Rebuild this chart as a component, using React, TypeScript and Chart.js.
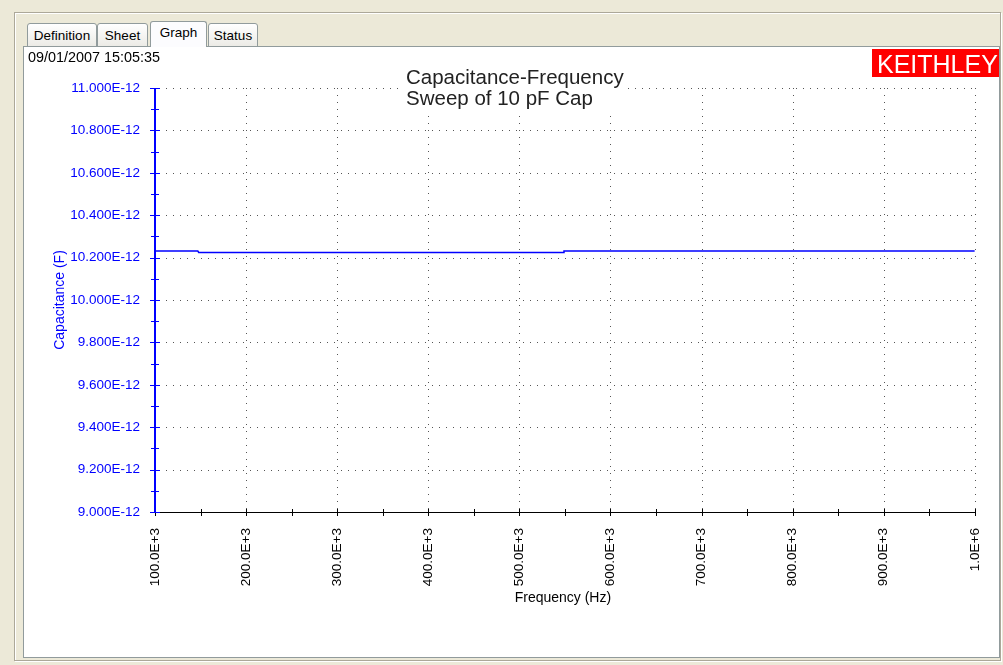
import React, { useEffect, useRef } from 'react';
import { Chart, registerables } from 'chart.js';

Chart.register(...registerables);

// ---- data ----
const frequencyHz = [100e3, 147e3, 148e3, 300e3, 450e3, 548e3, 549e3, 700e3, 850e3, 1000e3];
const capacitancePF = [10.231, 10.231, 10.224, 10.224, 10.224, 10.224, 10.231, 10.231, 10.231, 10.231];

const xTickHz = [100e3, 200e3, 300e3, 400e3, 500e3, 600e3, 700e3, 800e3, 900e3, 1000e3];
const xTickLabels = ['100.0E+3', '200.0E+3', '300.0E+3', '400.0E+3', '500.0E+3', '600.0E+3', '700.0E+3', '800.0E+3', '900.0E+3', '1.0E+6'];
const yTickPF = [9.0, 9.2, 9.4, 9.6, 9.8, 10.0, 10.2, 10.4, 10.6, 10.8, 11.0];
const yTickLabels = ['9.000E-12', '9.200E-12', '9.400E-12', '9.600E-12', '9.800E-12', '10.000E-12', '10.200E-12', '10.400E-12', '10.600E-12', '10.800E-12', '11.000E-12'];

const titleLines = ['Capacitance-Frequency', 'Sweep of 10 pF Cap'];
const xAxisTitle = 'Frequency (Hz)';
const yAxisTitle = 'Capacitance (F)';
const timestamp = '09/01/2007 15:05:35';
const logoText = 'KEITHLEY';
const tabNames = ['Definition', 'Sheet', 'Graph', 'Status'];
const activeTab = 'Graph';

const FONT = "'Liberation Sans', Arial, sans-serif";
const BLUE = '#0000FF';

const decorPlugin = {
  id: 'decor',
  beforeDatasetsDraw(chart: any) {
    const { ctx, chartArea: a, scales } = chart;
    const x = scales.x, y = scales.y;
    ctx.save();
    ctx.fillStyle = '#555555';
    for (const v of yTickPF) {
      const py = Math.round(y.getPixelForValue(v));
      for (let px = a.left + 4; px <= a.right + 0.5; px += 7) ctx.fillRect(px, py, 1, 1);
    }
    for (const v of xTickHz) {
      const px = Math.round(x.getPixelForValue(v));
      for (let py = a.bottom - 4; py >= a.top - 0.5; py -= 7) ctx.fillRect(px, py, 1, 1);
    }
    ctx.restore();
  },
  afterDatasetsDraw(chart: any) {
    const { ctx, chartArea: a, scales } = chart;
    const x = scales.x, y = scales.y;
    ctx.save();
    // x axis
    ctx.strokeStyle = '#000000';
    ctx.lineWidth = 1;
    ctx.beginPath();
    ctx.moveTo(a.left, Math.round(a.bottom) + 0.5);
    ctx.lineTo(a.right + 1, Math.round(a.bottom) + 0.5);
    const xMinor = xTickHz.slice(1).map((v, i) => (v + xTickHz[i]) / 2);
    for (const v of [...xTickHz, ...xMinor]) {
      const px = Math.round(x.getPixelForValue(v)) + 0.5;
      ctx.moveTo(px, a.bottom - 3);
      ctx.lineTo(px, a.bottom + 4);
    }
    ctx.stroke();
    // y axis
    ctx.strokeStyle = BLUE;
    ctx.lineWidth = 2;
    ctx.beginPath();
    ctx.moveTo(Math.round(a.left), a.top);
    ctx.lineTo(Math.round(a.left), a.bottom + 1);
    ctx.stroke();
    ctx.lineWidth = 1;
    ctx.beginPath();
    for (const v of yTickPF) {
      const py = Math.round(y.getPixelForValue(v)) + 0.5;
      ctx.moveTo(a.left - 5, py);
      ctx.lineTo(a.left + 5, py);
    }
    const yMinor = yTickPF.slice(1).map((v, i) => (v + yTickPF[i]) / 2);
    for (const v of yMinor) {
      const py = Math.round(y.getPixelForValue(v)) + 0.5;
      ctx.moveTo(a.left - 4, py);
      ctx.lineTo(a.left + 4, py);
    }
    ctx.stroke();

    // axis titles
    ctx.font = `14px ${FONT}`;
    ctx.textAlign = 'center';
    ctx.textBaseline = 'middle';
    ctx.fillStyle = '#000000';
    ctx.fillText(xAxisTitle, (a.left + a.right) / 2 - 2, a.bottom + 86);
    ctx.save();
    ctx.translate(36, (a.top + a.bottom) / 2);
    ctx.rotate(-Math.PI / 2);
    ctx.fillStyle = BLUE;
    ctx.fillText(yAxisTitle, 0, 0);
    ctx.restore();

    // chart title with white box
    ctx.font = `20.5px ${FONT}`;
    const tw = Math.max(...titleLines.map((t) => ctx.measureText(t).width));
    ctx.fillStyle = '#FFFFFF';
    ctx.fillRect(379, 16, tw + 6, 50);
    ctx.fillStyle = '#222222';
    ctx.textAlign = 'left';
    ctx.textBaseline = 'alphabetic';
    titleLines.forEach((t, i) => ctx.fillText(t, 382, 37 + i * 21));

    // timestamp
    ctx.font = `14.4px ${FONT}`;
    ctx.fillStyle = '#000000';
    ctx.fillText(timestamp, 4, 15);

    // logo
    ctx.fillStyle = '#FF0000';
    ctx.fillRect(848, 2, 127, 28);
    ctx.font = `25px ${FONT}`;
    ctx.fillStyle = '#FFFFFF';
    ctx.fillText(logoText, 853, 26);
    ctx.restore();
  },
};

function ChartPanel() {
  const ref = useRef<HTMLCanvasElement | null>(null);
  useEffect(() => {
    if (!ref.current) return;
    const chart = new Chart(ref.current, {
      type: 'line',
      data: {
        datasets: [
          {
            data: frequencyHz.map((f, i) => ({ x: f, y: capacitancePF[i] })),
            borderColor: BLUE,
            borderWidth: 1.5,
            pointRadius: 0,
            tension: 0,
            fill: false,
          },
        ],
      },
      options: {
        animation: false,
        responsive: false,
        events: [],
        layout: { padding: { top: 41, right: 24, left: 0, bottom: 0 } },
        plugins: { legend: { display: false }, tooltip: { enabled: false }, title: { display: false } },
        scales: {
          x: {
            type: 'linear',
            min: xTickHz[0],
            max: xTickHz[xTickHz.length - 1],
            afterBuildTicks: (s: any) => {
              s.ticks = xTickHz.map((v) => ({ value: v }));
            },
            afterFit: (s: any) => {
              s.height = 145;
            },
            grid: { display: false },
            border: { display: false },
            ticks: {
              autoSkip: false,
              minRotation: 90,
              maxRotation: 90,
              padding: 8,
              color: '#000000',
              font: { family: FONT, size: 13.5 },
              callback: (v: any) => xTickLabels[xTickHz.indexOf(Number(v))] ?? '',
            },
          },
          y: {
            type: 'linear',
            min: yTickPF[0],
            max: yTickPF[yTickPF.length - 1],
            afterBuildTicks: (s: any) => {
              s.ticks = yTickPF.map((v) => ({ value: v }));
            },
            afterFit: (s: any) => {
              s.width = 131;
            },
            grid: { display: false },
            border: { display: false },
            ticks: {
              autoSkip: false,
              padding: 7,
              color: BLUE,
              font: { family: FONT, size: 13.5 },
              callback: (v: any) => {
                const idx = yTickPF.findIndex((t) => Math.abs(t - Number(v)) < 1e-6);
                return idx >= 0 ? yTickLabels[idx] : '';
              },
            },
          },
        },
      },
      plugins: [decorPlugin],
    } as any);
    return () => chart.destroy();
  }, []);
  return <canvas ref={ref} width={975} height={610} style={{ width: 975, height: 610, display: 'block' }} />;
}

const tabGeom: Record<string, { left: number; width: number }> = {
  Definition: { left: 27, width: 70 },
  Sheet: { left: 97, width: 51 },
  Graph: { left: 150, width: 57 },
  Status: { left: 208, width: 50 },
};

export default function App() {
  return (
    <div
      style={{
        position: 'fixed',
        left: 0,
        top: 0,
        width: 1003,
        height: 665,
        background: '#ECE9D8',
        overflow: 'hidden',
        fontFamily: FONT,
      }}
    >
      <div
        style={{
          position: 'absolute',
          left: 14,
          top: 12,
          width: 985,
          height: 647,
          border: '1px solid #ACA899',
          boxShadow: 'inset 1px 1px 0 #FFFFFF, 1px 1px 0 #FFFFFF',
        }}
      />
      {tabNames.map((t) => {
        const g = tabGeom[t];
        const active = t === activeTab;
        return (
          <div
            key={t}
            style={{
              position: 'absolute',
              left: g.left,
              top: active ? 21 : 23,
              width: g.width - 2,
              height: active ? 25 : 22,
              border: '1px solid #919B9C',
              borderBottom: active ? 'none' : '1px solid #919B9C',
              borderRadius: '3px 3px 0 0',
              background: active ? '#FCFCFE' : 'linear-gradient(#FFFFFF, #ECEBE6)',
              fontSize: 13.5,
              textAlign: 'center',
              lineHeight: active ? '22px' : '24px',
              color: '#000',
              zIndex: active ? 3 : 1,
              boxSizing: 'content-box',
            }}
          >
            {t}
          </div>
        );
      })}
      <div
        style={{
          position: 'absolute',
          left: 23,
          top: 46,
          width: 975,
          height: 610,
          border: '1px solid #919B9C',
          background: '#FFFFFF',
          zIndex: 2,
        }}
      >
        <ChartPanel />
      </div>
    </div>
  );
}
